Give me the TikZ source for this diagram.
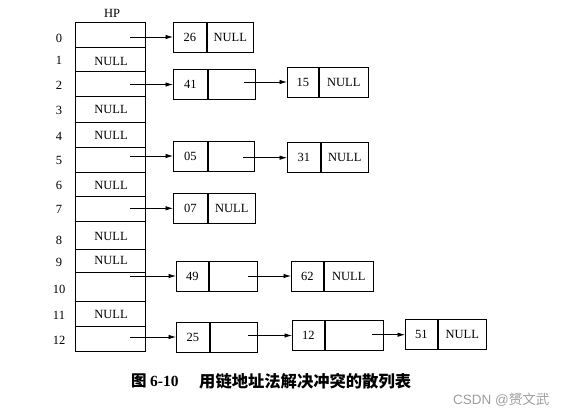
\documentclass[tikz,border=0pt]{standalone}
\usepackage{fontspec}
\setmainfont{Liberation Serif}
\newfontfamily\cjk{Noto Sans CJK SC}
\newfontfamily\wmsans{Liberation Sans}
\usetikzlibrary{arrows.meta}
\tikzset{
  lbl/.style={inner sep=0pt, font=\fontsize{12.5}{14}\selectfont},
  cellbox/.style={draw, line width=0.9pt, minimum height=30pt, inner sep=0pt, anchor=west, font=\fontsize{12.5}{14}\selectfont},
  ptr/.style={line width=0.75pt, -{Latex[length=7.5pt,width=4.5pt]}},
  tab/.style={line width=0.9pt}
}
\begin{document}
\begin{tikzpicture}[x=1pt,y=-1pt]
\useasboundingbox (0,0) rectangle (567,418);
% title
\node[lbl] (hp) at (112,13) {HP};
% table
\draw[tab] (75,22.7) rectangle (145,351.7);
\foreach \yy in {47.7,71,96.7,122,147.7,172.7,196,221.7,249,272,301,326.7}
  \draw[tab] (75,\yy) -- (145,\yy);
% indices
\foreach \i/\yy in {0/38,1/60,2/85,3/110,4/136,5/160,6/185.7,7/209,8/240,9/262.7,10/289,11/315.7,12/340}
  \node[lbl] (i\i) at (59,\yy) {\i};
% NULL entries
\foreach \i/\yy in {1/61,3/109,4/135,6/185,8/236.7,9/260,11/314}
  \node[lbl] (t\i) at (111,\yy) {NULL};
% list cells
\node[cellbox, minimum width=33pt] (d26) at (173,37) {26};
\node[cellbox, minimum width=46pt] (p26) at (d26.east) {NULL};
\node[cellbox, minimum width=34pt] (d41) at (173,84.5) {41};
\node[cellbox, minimum width=47pt] (p41) at (d41.east) {};
\node[cellbox, minimum width=31pt] (d15) at (287,82) {15};
\node[cellbox, minimum width=49pt] (p15) at (d15.east) {NULL};
\node[cellbox, minimum width=34pt] (d05) at (173,156) {05};
\node[cellbox, minimum width=46pt] (p05) at (d05.east) {};
\node[cellbox, minimum width=33pt] (d31) at (287,157.7) {31};
\node[cellbox, minimum width=47pt] (p31) at (d31.east) {NULL};
\node[cellbox, minimum width=34pt] (d07) at (173,208.3) {07};
\node[cellbox, minimum width=47pt] (p07) at (d07.east) {NULL};
\node[cellbox, minimum width=32pt] (d49) at (176,276) {49};
\node[cellbox, minimum width=48pt] (p49) at (d49.east) {};
\node[cellbox, minimum width=32pt] (d62) at (291,276) {62};
\node[cellbox, minimum width=49pt] (p62) at (d62.east) {NULL};
\node[cellbox, minimum width=33pt] (d25) at (176,337) {25};
\node[cellbox, minimum width=47pt] (p25) at (d25.east) {};
\node[cellbox, minimum width=32pt] (d12) at (292,335.5) {12};
\node[cellbox, minimum width=58pt] (p12) at (d12.east) {};
\node[cellbox, minimum width=32pt] (d51) at (405,334.7) {51};
\node[cellbox, minimum width=48pt] (p51) at (d51.east) {NULL};
% pointer starts in the table
\coordinate (s0) at (130,37);
\coordinate (s2) at (130,84.5);
\coordinate (s5) at (130,156);
\coordinate (s7) at (130,208.3);
\coordinate (s10) at (130,276);
\coordinate (s12) at (130,337);
\draw[ptr] (s0) -- (d26.west);
\draw[ptr] (s2) -- (d41.west);
\draw[ptr] (s5) -- (d05.west);
\draw[ptr] (s7) -- (d07.west);
\draw[ptr] (s10) -- (d49.west);
\draw[ptr] (s12) -- (d25.west);
% chain pointers
\draw[ptr] ([xshift=-12pt]p41.east |- d15.west) -- (d15.west);
\draw[ptr] ([xshift=-12pt]p05.east |- d31.west) -- (d31.west);
\draw[ptr] ([xshift=-10pt]p49.east) -- (d62.west);
\draw[ptr] ([xshift=-10pt]p25.east |- d12.west) -- (d12.west);
\draw[ptr] ([xshift=-12pt]p12.east |- d51.west) -- (d51.west);
% caption
\node[inner sep=0pt, anchor=west, font=\cjk\bfseries\fontsize{15.5}{18}\selectfont] (cap1) at (131,381) {图};
\node[inner sep=0pt, anchor=west, font=\bfseries\fontsize{15.5}{18}\selectfont] (cap2) at (150,381) {6-10};
\node[inner sep=0pt, anchor=west, font=\cjk\bfseries\fontsize{16.3}{18}\selectfont] (cap3) at (199,381) {用链地址法解决冲突的散列表};
% watermark
\node[inner sep=0pt, anchor=west, text=black!38, font=\fontsize{13.5}{16}\selectfont] (wm) at (453,400) {{\wmsans CSDN @}{\cjk 赟文武}};
\end{tikzpicture}
\end{document}
